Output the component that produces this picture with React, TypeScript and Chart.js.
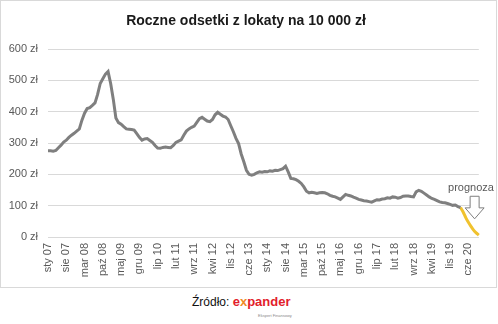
import React, { useEffect, useRef } from 'react';
import { Chart, registerables } from 'chart.js';

Chart.register(...registerables);

const chartTitle = 'Roczne odsetki z lokaty na 10 000 zł';
const monthNames = ['sty', 'lut', 'mar', 'kwi', 'maj', 'cze', 'lip', 'sie', 'wrz', 'paź', 'lis', 'gru'];
const startYear = 7; // 2007
const labelEvery = 7;
const forecastLabel = 'prognoza';

// Monthly values (zł), Jan 2007 .. Mar 2020
const actual = [
  275, 275, 274, 276, 285, 293, 303, 309, 318, 325, 331, 338,
  345, 373, 395, 410, 413, 420, 428, 455, 490, 505, 520, 528,
  490, 440, 380, 365, 360, 352, 345, 344, 343, 341, 330, 318,
  309, 313, 314, 308, 302, 292, 284, 283, 286, 287, 286, 285,
  292, 302, 306, 310, 325, 338, 345, 350, 354, 366, 378, 382,
  376, 370, 368, 375, 390, 398, 392, 386, 383, 375, 355, 336,
  315, 298, 265, 240, 213, 200, 197, 200, 205, 208, 207, 209,
  208, 211, 210, 213, 212, 215, 218, 226, 208, 187, 186, 183,
  178, 171, 160, 146, 141, 143, 141, 139, 141, 142, 141, 138,
  133, 130, 128, 124, 120, 128, 136, 133, 131, 127, 124, 120,
  118, 116, 115, 113, 111, 115, 119, 118, 121, 122, 125, 124,
  128, 127, 124, 126, 130, 131, 131, 129, 128, 144, 149, 146,
  140, 134, 128, 123, 120, 116, 112, 110, 109, 107, 104, 101,
  102, 97, 94
];
// Forecast, Mar 2020 .. Oct 2020
const forecast = [94, 80, 62, 47, 34, 22, 13, 6];
const forecastStart = actual.length - 1;

const yMin = 0;
const yMax = 600;
const yStep = 100;

const totalPoints = forecastStart + forecast.length;
const labels = Array.from({ length: totalPoints }, (_, i) =>
  `${monthNames[i % 12]} ${String(startYear + Math.floor(i / 12)).padStart(2, '0')}`
);
const actualData = labels.map((_, i) => (i < actual.length ? actual[i] : null));
const forecastData = labels.map((_, i) => (i >= forecastStart ? forecast[i - forecastStart] : null));

const FONT = "'Liberation Sans', Arial, sans-serif";

const decorPlugin = {
  id: 'decor',
  beforeDraw(chart: any) {
    const { ctx, width, height } = chart;
    ctx.save();
    ctx.fillStyle = '#ffffff';
    ctx.fillRect(0, 0, width, height);
    ctx.strokeStyle = '#d9d9d9';
    ctx.lineWidth = 1;
    ctx.strokeRect(0.5, 0.5, width - 2, height - 1);
    ctx.restore();
  },
  afterDraw(chart: any) {
    const { ctx } = chart;
    const xs = chart.scales.x;
    const ys = chart.scales.y;
    ctx.save();
    // title
    ctx.fillStyle = '#1a1a1a';
    ctx.font = `bold 14px ${FONT}`;
    ctx.textAlign = 'center';
    ctx.textBaseline = 'middle';
    ctx.fillText(chartTitle, 246, 21);
    // forecast label
    ctx.fillStyle = '#595959';
    ctx.font = `11px ${FONT}`;
    ctx.fillText(forecastLabel, xs.getPixelForValue(162), ys.getPixelForValue(155));
    // arrow
    const cx = xs.getPixelForValue(163.4);
    const top = ys.getPixelForValue(130);
    const neck = ys.getPixelForValue(93);
    const tip = ys.getPixelForValue(58);
    const sw = 4.5;
    const hw = 9.5;
    ctx.beginPath();
    ctx.moveTo(cx - sw, top);
    ctx.lineTo(cx + sw, top);
    ctx.lineTo(cx + sw, neck);
    ctx.lineTo(cx + hw, neck);
    ctx.lineTo(cx, tip);
    ctx.lineTo(cx - hw, neck);
    ctx.lineTo(cx - sw, neck);
    ctx.closePath();
    ctx.fillStyle = '#ffffff';
    ctx.fill();
    ctx.strokeStyle = '#7f7f7f';
    ctx.lineWidth = 1;
    ctx.stroke();
    ctx.restore();
  },
};

export default function App() {
  const ref = useRef<HTMLCanvasElement | null>(null);

  useEffect(() => {
    if (!ref.current) return;
    const chart = new Chart(ref.current, {
      type: 'line',
      data: {
        labels,
        datasets: [
          {
            data: actualData,
            borderColor: '#7f7f7f',
            borderWidth: 3,
            pointRadius: 0,
            tension: 0,
            spanGaps: false,
          },
          {
            data: forecastData,
            borderColor: '#f0c22e',
            borderWidth: 3,
            pointRadius: 0,
            tension: 0.3,
            spanGaps: false,
          },
        ],
      },
      options: {
        animation: false,
        responsive: false,
        maintainAspectRatio: false,
        events: [],
        layout: { padding: { top: 49, right: 15, left: 0, bottom: 0 } },
        plugins: {
          legend: { display: false },
          title: { display: false },
          tooltip: { enabled: false },
        },
        scales: {
          x: {
            type: 'category',
            offset: false,
            grid: { display: false, drawTicks: false },
            border: { display: true, color: '#d9d9d9', width: 1 },
            ticks: {
              autoSkip: false,
              minRotation: 90,
              maxRotation: 90,
              padding: 6,
              color: '#595959',
              font: { family: FONT, size: 11 },
              callback: (_v: any, i: number) => (i % labelEvery === 0 ? labels[i] : ''),
            },
            afterFit: (s: any) => {
              s.height = 51;
            },
          },
          y: {
            min: yMin,
            max: yMax,
            grid: { color: '#d9d9d9', drawTicks: false, lineWidth: 1 },
            border: { display: false },
            ticks: {
              stepSize: yStep,
              padding: 10,
              color: '#595959',
              font: { family: FONT, size: 11 },
              callback: (v: any) => `${v} zł`,
            },
            afterFit: (s: any) => {
              s.width = 48;
            },
          },
        },
      },
      plugins: [decorPlugin],
    });
    return () => chart.destroy();
  }, []);

  return (
    <div style={{ position: 'fixed', left: 0, top: 0, width: 498, height: 324, background: '#fff' }}>
      <canvas ref={ref} width={498} height={288} style={{ position: 'absolute', left: 0, top: 0, width: 498, height: 288 }} />
      <div
        style={{
          position: 'absolute',
          left: 192,
          top: 293,
          fontFamily: FONT,
          whiteSpace: 'nowrap',
          lineHeight: '15px',
        }}
      >
        <span style={{ fontSize: 12, color: '#111' }}>Źródło: </span>
        <span style={{ fontSize: 13, fontWeight: 'bold', color: '#e2202b' }}>
          e<span style={{ color: '#f08a24' }}>x</span>pander
        </span>
        <div style={{ position: 'absolute', left: 66, top: 15, fontSize: 4, color: '#888' }}>Ekspert Finansowy</div>
      </div>
    </div>
  );
}
